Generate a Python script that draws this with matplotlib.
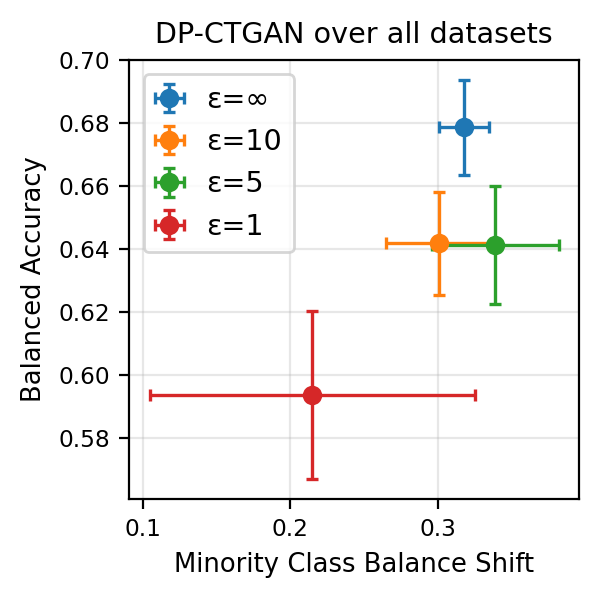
import numpy as np
import matplotlib
matplotlib.use("Agg")
import matplotlib.pyplot as plt

labels = ["ε=∞", "ε=10", "ε=5", "ε=1"]
shift = [0.3175, 0.3004, 0.3387, 0.2148]
shift_err = [0.017, 0.0354, 0.043, 0.110]
acc = [0.6787, 0.6419, 0.6414, 0.5938]
acc_err = [0.015, 0.0163, 0.0188, 0.0267]

fig, ax = plt.subplots(figsize=(3, 3), dpi=200)
fig.subplots_adjust(left=0.2154, right=0.965, top=0.8998, bottom=0.1686)
for i in range(len(labels)):
    ax.errorbar(shift[i], acc[i], xerr=shift_err[i], yerr=acc_err[i],
                fmt='o', capsize=2.2, elinewidth=1.2, capthick=1.2,
                label=labels[i])

ax.set_xlabel("Minority Class Balance Shift", fontsize=9.3)
ax.set_ylabel("Balanced Accuracy", fontsize=9.3)
ax.set_title("DP-CTGAN over all datasets", fontsize=10.3)
ax.tick_params(labelsize=8.4)
ax.grid(alpha=0.3)
ax.legend(loc="upper left", fontsize=10.3, handlelength=1.0)
plt.savefig("out.png")
